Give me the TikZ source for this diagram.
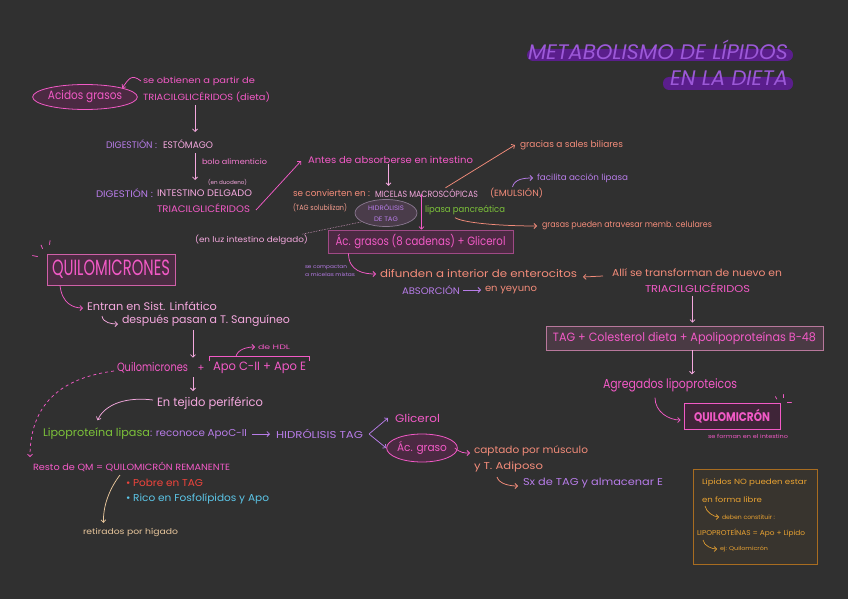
\documentclass[tikz,border=0pt]{standalone}
\usepackage{fontspec}
\setmainfont{Poppins}
\usetikzlibrary{arrows.meta,shapes.geometric,calc}
\definecolor{bg}{HTML}{303030}
\definecolor{pinkA}{HTML}{F25AC6}
\definecolor{lpink}{HTML}{F4A8DE}
\definecolor{viol}{HTML}{B77CE8}
\definecolor{salm}{HTML}{F38C7A}
\definecolor{grn}{HTML}{7CC23A}
\definecolor{redc}{HTML}{F0443C}
\definecolor{cyanc}{HTML}{5CC6E8}
\definecolor{tanc}{HTML}{E8C69C}
\definecolor{orng}{HTML}{E8A232}
\definecolor{orngb}{HTML}{A86C20}
\definecolor{tpurp}{HTML}{9C58D8}
\definecolor{tbar}{HTML}{5A1E8C}
\definecolor{maroon}{HTML}{4B2A42}
\definecolor{hidfill}{HTML}{4A3C4A}
\definecolor{hiddraw}{HTML}{8A7890}
\definecolor{acgdraw}{HTML}{A04A86}
\definecolor{tagfill}{HTML}{4A3A44}
\definecolor{tagdraw}{HTML}{B8789C}
\definecolor{qfill}{HTML}{4A2C42}
\definecolor{qdraw}{HTML}{D060A8}
\definecolor{ofill}{HTML}{38342E}
\newcommand{\tw}[2]{\resizebox{#1pt}{\height}{#2}}
\newcommand{\fs}[1]{\fontsize{#1}{#1}\selectfont}
\begin{document}
\begin{tikzpicture}[x=1pt,y=-1pt,
  t/.style={anchor=west,inner sep=0pt,outer sep=0pt},
  arr/.style={-{Straight Barb[length=2.5pt,width=5pt]},line width=0.75pt},
  ln/.style={line width=0.75pt}]
\fill[bg] (0,0) rectangle (848,599);
\useasboundingbox (0,0) rectangle (848,599);

% title
\fill[tbar,rounded corners=6pt] (527,49) rectangle (793,61);
\fill[tbar,rounded corners=6pt] (663,77) rectangle (793,90);
\node[t,text=tpurp] (ti1) at (528,50) {\fs{21}\itshape\tw{260}{METABOLISMO DE LÍPIDOS}};
\node[t,text=tpurp] (ti2) at (670,78) {\fs{21}\itshape\tw{118}{EN LA DIETA}};

% top left chain
\node[ellipse,draw=pinkA,fill=maroon,line width=0.8pt,minimum width=96pt,minimum height=25pt,inner sep=0pt,text=pinkA] (acid) at (85,97) {\fs{12}\tw{74}{Acidos grasos}};
\node[t,text=pinkA] (obt) at (143,81) {\fs{8.5}\tw{112}{se obtienen a partir de}};
\node[t,text=pinkA] (tri1) at (143,97) {\fs{9}\tw{127}{TRIACILGLICÉRIDOS (dieta)}};
\draw[arr,pinkA] ([xshift=-2pt]obt.west) .. controls +(-10,-8) and +(6,-8) .. (acid.north east);
\coordinate (d1a) at (195,105);
\coordinate (d1b) at (195,132);
\draw[arr,lpink] (d1a) -- (d1b);

\node[t,text=viol] (dig1) at (106,144) {\fs{9.5}\tw{51}{DIGESTIÓN :}};
\node[t,text=lpink] (est) at (163,144) {\fs{9.5}\tw{50}{ESTÓMAGO}};
\coordinate (d2a) at (195,153);
\coordinate (d2b) at (195,180);
\draw[arr,lpink] (d2a) -- (d2b);
\node[t,text=pinkA!80!white] (bolo) at (202,162) {\fs{7.5}\tw{65}{bolo alimenticio}};
\node[t,text=lpink] (duo) at (208,182) {\fs{5.5}\tw{39}{(en duodeno)}};
\node[t,text=viol] (dig2) at (96,193) {\fs{9.5}\tw{57}{DIGESTIÓN :}};
\node[t,text=lpink] (intd) at (157,193) {\fs{9.5}\tw{95}{INTESTINO DELGADO}};
\node[t,text=pinkA] (tri2) at (157,208) {\fs{9.5}\tw{93}{TRIACILGLICÉRIDOS}};

% middle top
\node[t,text=pinkA] (antes) at (308,160) {\fs{9.5}\tw{165}{Antes de absorberse en intestino}};
\draw[arr,pinkA] ([xshift=6pt,yshift=-2pt]tri2.east) -- ([xshift=-7pt,yshift=-1pt]antes.west);
\node[t,text=salm] (conv) at (293,193) {\fs{9}\tw{77}{se convierten en :}};
\node[t,text=lpink] (mic) at (375,193) {\fs{9}\tw{103}{MICELAS MACROSCÓPICAS}};
\draw[arr,lpink] ([xshift=-2pt]antes.south) -- ([xshift=-2pt,yshift=3pt]antes.south |- mic.north);
\node[t,text=salm] (emul) at (490,193) {\fs{9}\tw{53}{(EMULSIÓN)}};
\node[t,text=salm!85!white] (tagsol) at (293,208) {\fs{7.5}\tw{54}{(TAG solubilizan)}};
\node[ellipse,draw=hiddraw,fill=hidfill,line width=0.7pt,minimum width=62pt,minimum height=27pt,inner sep=0pt,text=viol,align=center] (hidr) at (386,213) {\fs{6.5}\tw{36}{HIDRÓLISIS}\\[-0.5pt]\fs{6.5}\tw{24}{DE TAG}};
\node[t,text=grn] (lipp) at (425,210) {\fs{9}\tw{80}{lipasa pancreática}};
\node[t,text=salm] (grac) at (520,145) {\fs{9}\tw{103}{gracias a sales biliares}};
\draw[arr,salm] ($(mic.north)+(19,-1)$) -- ([xshift=-5pt]grac.west);
\node[t,text=viol] (facil) at (537,178) {\fs{8.5}\tw{91}{facilita acción lipasa}};
\draw[arr,viol] ([xshift=-4pt,yshift=1pt]emul.north) .. controls +(2,-8) and +(-9,0) .. ([xshift=-4pt]facil.west);
\node[t,text=salm] (gras) at (542,226) {\fs{8.5}\tw{170}{grasas pueden atravesar memb. celulares}};
\draw[arr,salm] ([xshift=-10pt,yshift=-3pt]lipp.south) .. controls +(10,6) and +(-30,0) .. ([xshift=-5pt]gras.west);

\node[t,text=lpink] (luz) at (195,240) {\fs{8}\tw{113}{(en luz intestino delgado)}};
\draw[lpink!80!gray,line width=0.6pt,densely dotted] ([xshift=-6pt,yshift=1pt]luz.north east) -- (hidr.200);

\node[draw=acgdraw,fill=maroon,line width=0.8pt,minimum width=185pt,minimum height=23pt,inner sep=0pt,text=pinkA] (acg) at (420.5,241.5) {\fs{12}\tw{170}{Ác. grasos (8 cadenas) + Glicerol}};
\draw[arr,pinkA] ([xshift=-5pt,yshift=3pt]mic.south) -- ([xshift=-5pt]mic.south |- acg.north);

\node[t,text=viol] (comp1) at (305,267) {\fs{5}\tw{42}{se compactan}};
\node[t,text=viol] (comp2) at (305,275) {\fs{5}\tw{50}{a micelas mixtas}};
\node[t,text=salm] (dif) at (380,274) {\fs{10.5}\tw{197}{difunden a interior de enterocitos}};
\draw[arr,pinkA] ([xshift=-72pt]acg.south) .. controls +(0,18) and +(-12,0) .. ([xshift=-4pt]dif.west);
\node[t,text=viol] (abs) at (402,290) {\fs{9.5}\tw{58}{ABSORCIÓN}};
\node[t,text=salm] (yey) at (485,290) {\fs{9.5}\tw{52}{en yeyuno}};
\draw[arr,viol] ([xshift=3pt]abs.east) -- ([xshift=-4pt]yey.west);

% right side
\node[t,text=salm] (alli) at (612,273) {\fs{10}\tw{170}{Allí se transforman de nuevo en}};
\draw[arr,salm] ([xshift=-9pt,yshift=-3pt]alli.west) -- ([xshift=6pt,yshift=-3pt]dif.east);
\node[t,text=pinkA] (tri3) at (645,288) {\fs{10}\tw{105}{TRIACILGLICÉRIDOS}};
\node[draw=tagdraw,fill=tagfill,line width=0.8pt,minimum width=277pt,minimum height=24pt,inner sep=0pt,text=pinkA] (tagb) at (684.5,338) {\fs{12}\tw{263}{TAG + Colesterol dieta + Apolipoproteínas B-48}};
\draw[arr,lpink] ([xshift=-5pt,yshift=-3pt]tri3.south) -- ([xshift=-5pt,yshift=3pt]tri3.south |- tagb.north);
\node[t,text=pinkA] (agreg) at (603,385) {\fs{13}\tw{134}{Agregados lipoproteicos}};
\draw[arr,lpink] ([xshift=7.5pt]tagb.south) -- ([xshift=7.5pt,yshift=4pt]tagb.south |- agreg.north);
\node[draw=pinkA,fill=qfill!85!black,line width=0.8pt,minimum width=96pt,minimum height=26pt,inner sep=0pt,text=pinkA] (qmc) at (732,416) {\fs{12.5}\bfseries\tw{76}{QUILOMICRÓN}};
\draw[arr,pinkA] ([xshift=-15pt,yshift=-6pt]agreg.south) .. controls +(0,14) and +(-12,0) .. ([xshift=-3pt,yshift=-4pt]qmc.west);
\draw[ln,pinkA,line cap=round] ([xshift=-5pt,yshift=6pt]qmc.north east) -- ++(1.5,2.5);
\draw[ln,pinkA,line cap=round] ([xshift=3pt,yshift=8pt]qmc.north east) -- ++(0,3);
\draw[ln,pinkA,line cap=round] ([xshift=7pt,yshift=0pt]qmc.north east) -- ++(4,0);
\node[t,text=pinkA] (formi) at (708,436) {\fs{5.5}\tw{80}{se forman en el intestino}};

% left middle
\node[draw=qdraw,fill=qfill,line width=0.9pt,minimum width=128pt,minimum height=31pt,inner sep=0pt,text=pinkA] (qbox) at (111,269.5) {\fs{22}\tw{118}{QUILOMICRONES}};
\draw[ln,pinkA,line cap=round] ([xshift=-9pt,yshift=-3pt]qbox.north west) -- ++(-5,-1);
\draw[ln,pinkA,line cap=round] ([xshift=-4pt,yshift=5pt]qbox.north west) -- ++(-1.5,-3.5);
\draw[ln,pinkA,line cap=round] ([xshift=3pt,yshift=9pt]qbox.north west) -- ++(0.5,-4);
\node[t,text=lpink] (entr) at (87,306) {\fs{11}\tw{130}{Entran en Sist. Linfático}};
\draw[arr,pinkA] ([xshift=-51pt]qbox.south) .. controls +(2,18) and +(-10,0) .. ([xshift=-4pt,yshift=-2pt]entr.west);
\node[t,text=lpink] (desp) at (122,321) {\fs{11}\tw{168}{después pasan a T. Sanguíneo}};
\draw[arr,lpink] ([xshift=15pt,yshift=-10pt]entr.west) .. controls +(1,7) and +(-6,0) .. ([xshift=-4pt,yshift=-3pt]desp.west);
\node[t,text=pinkA] (quil) at (117,368) {\fs{12}\tw{71}{Quilomicrones}};
\draw[arr,lpink] ([xshift=-13pt,yshift=-3pt]desp.south) -- ([xshift=-13pt,yshift=5pt]desp.south |- quil.north);
\node[text=pinkA,inner sep=0pt] (plus) at (201,368) {\fs{10}+};
\node[t,text=pinkA] (apo) at (213,368) {\fs{12}\tw{93}{Apo C-II + Apo E}};
\draw[ln,pinkA] ([xshift=-4pt,yshift=1pt]apo.north west) -- ++(0,-5) -| ([xshift=3pt,yshift=1pt]apo.north east);
\node[t,text=pinkA] (hdl) at (258,347) {\fs{6.5}\tw{32}{de HDL}};
\draw[arr,pinkA] ([xshift=23pt,yshift=6pt]apo.north west) .. controls +(2,-7) and +(-8,0) .. ([xshift=-3pt]hdl.west);
\node[t,text=lpink] (teji) at (157,403) {\fs{12}\tw{106}{En tejido periférico}};
\coordinate (d5a) at (193,377);
\coordinate (d5b) at (193,391);
\draw[arr,lpink] (d5a) -- (d5b);

% lower left
\node[t,text=grn] (lpl) at (43,434) {\fs{11}\tw{107}{Lipoproteína lipasa}};
\draw[arr,lpink] ([xshift=-4pt,yshift=3pt]teji.west) .. controls (120,396) and (103,408) .. ([xshift=1pt,yshift=8pt]lpl.north);
\node[t,text=viol] (reco) at (150,434) {\fs{10}\tw{97}{: reconoce ApoC-II}};
\node[t,text=viol] (hidt) at (276,434) {\fs{10}\tw{87}{HIDRÓLISIS TAG}};
\draw[arr,viol] ([xshift=5pt]reco.east) -- ([xshift=-6pt]hidt.west);
\node[t,text=pinkA] (glic) at (395,418) {\fs{11}\tw{45}{Glicerol}};
\node[ellipse,draw=pinkA,fill=maroon,line width=0.8pt,minimum width=70pt,minimum height=28pt,inner sep=0pt,text=pinkA] (acg2) at (422,448) {\fs{11}\tw{50}{Ác. graso}};
\draw[arr,viol] ([xshift=6pt]hidt.east) -- ([xshift=-7pt]glic.west);
\draw[arr,viol] ([xshift=6pt]hidt.east) -- (acg2.west);
\node[t,text=salm] (capt) at (474,451) {\fs{10}\tw{114}{captado por músculo}};
\node[t,text=salm] (adip) at (474,467) {\fs{10}\tw{69}{y T. Adiposo}};
\draw[arr,pinkA] ([xshift=-3pt]acg2.east) .. controls +(6,5) and +(-6,0) .. ([xshift=-4pt,yshift=-2pt]capt.west);
\node[t,text=viol] (sx) at (523,483) {\fs{10}\tw{140}{Sx de TAG y almacenar E}};
\draw[arr,salm] ([xshift=23pt,yshift=-10pt]adip.west) .. controls +(2,7) and +(-8,0) .. ([xshift=-5pt,yshift=-3pt]sx.west);

\node[t,text=pinkA] (rest) at (33,467) {\fs{9}\tw{197}{Resto de QM = QUILOMICRÓN REMANENTE}};
\draw[arr,pinkA,dashed] ([xshift=-3pt,yshift=-3pt]quil.west) .. controls (60,378) and (30,405) .. ([xshift=-3pt,yshift=5pt]rest.north west);
\node[t,text=redc] (pobre) at (126,483) {\fs{10}\tw{77}{• Pobre en TAG}};
\node[t,text=cyanc] (rico) at (126,499) {\fs{10}\tw{143}{• Rico en Fosfolípidos y Apo}};
\node[t,text=tanc] (ret) at (83,532) {\fs{8}\tw{95}{retirados por hígado}};
\draw[arr,tanc] ([xshift=87pt,yshift=-8pt]rest.west) .. controls (110,488) and (103,505) .. ([xshift=-27pt,yshift=5pt]ret.north);

% orange box
\node[draw=orngb,fill=ofill,line width=0.9pt,minimum width=124pt,minimum height=95pt,inner sep=0pt] (obox) at (755,516.5) {};
\node[t,text=orng] (o1) at (702,483) {\fs{7.5}\tw{105}{Lípidos NO pueden estar}};
\node[t,text=orng] (o2) at (702,500) {\fs{7.5}\tw{60}{en forma libre}};
\node[t,text=orng] (o3) at (722,517) {\fs{6}\tw{53}{deben constituir :}};
\node[t,text=orng] (o4) at (697,533) {\fs{7}\tw{108}{LIPOPROTEÍNAS = Apo + Lípido}};
\node[t,text=orng] (o5) at (720,549) {\fs{5.5}\tw{48}{ej: Quilomicrón}};
\draw[arr,orng,line width=0.6pt] ([xshift=3pt,yshift=-6pt]o2.west) .. controls +(1,6) and +(-5,0) .. ([xshift=-3pt]o3.west);
\draw[arr,orng,line width=0.6pt] ([xshift=6pt,yshift=-7pt]o4.west) .. controls +(1,6) and +(-5,0) .. ([xshift=-3pt]o5.west);
\end{tikzpicture}
\end{document}
